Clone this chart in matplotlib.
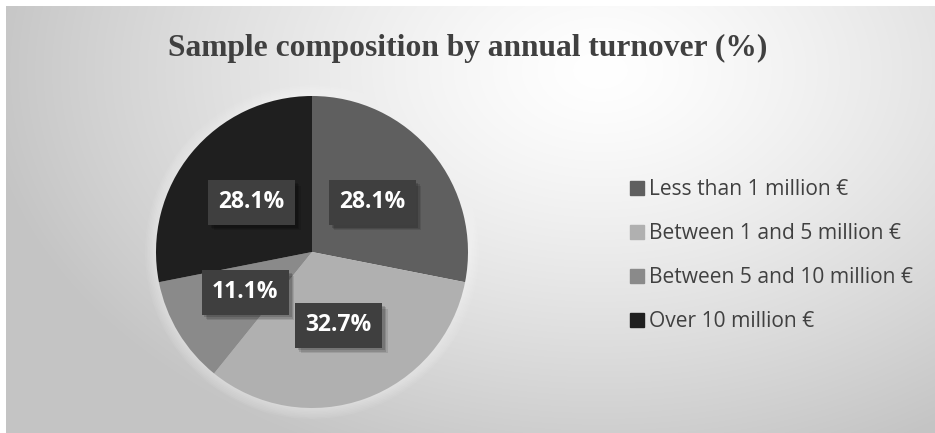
import numpy as np
import matplotlib
matplotlib.use("Agg")
import matplotlib.pyplot as plt
from matplotlib.lines import Line2D
from matplotlib import patheffects as pe
from matplotlib.patches import Circle

title = "Sample composition by annual turnover (%)"
categories = ["Less than 1 million €", "Between 1 and 5 million €",
              "Between 5 and 10 million €", "Over 10 million €"]
values = [28.1, 32.7, 11.1, 28.1]
colors = ["#5f5f5f", "#b0b0b0", "#8a8a8a", "#1f1f1f"]

W, H = 935, 433
plt.rcParams['hatch.color'] = '#4f4f4f'
plt.rcParams['hatch.linewidth'] = 1.2
fig = plt.figure(figsize=(W / 100, H / 100), dpi=100)
fig.patch.set_facecolor("white")

# background radial gradient
bg = fig.add_axes([6 / W, 0, 1 - 6 / W, 1 - 6 / H])
bg.set_axis_off()
yy, xx = np.mgrid[6:H, 6:W]
d = np.sqrt(((xx - 600) / 620.0) ** 2 + ((yy - 70) / 420.0) ** 2)
d = np.clip(d, 0, 1)
g = 1.0 - (1.0 - 0.77) * d ** 1.3
img = np.dstack([g, g, g])
bg.imshow(img, aspect="auto", extent=[0, 1, 0, 1], interpolation="bilinear")
bg.set_xlim(0, 1)
bg.set_ylim(0, 1)

fig.text(0.5, 1 - 48 / H, title, ha="center", va="center",
         fontsize=22.7, fontweight="bold", family="Liberation Serif", color="#404040")

cx, cy, r = 312, 252, 156
ax = fig.add_axes([(cx - r) / W, (H - cy - r) / H, 2 * r / W, 2 * r / H])
ax.set_axis_off()
for k in range(1, 8):
    ax.add_patch(Circle((0, 0), 1 + 0.01 * k, facecolor="white", alpha=0.06,
                        edgecolor="none", clip_on=False, zorder=0))
wedges, texts, autotexts = ax.pie(values, colors=colors, startangle=90, counterclock=False,
                                  autopct="%.1f%%", pctdistance=0.5, radius=1,
                                  wedgeprops=dict(linewidth=0),
                                  textprops=dict(color="white", fontsize=16.5, fontweight="bold",
                                                 family="Open Sans"))
for w in wedges:
    w.set_zorder(2)
for t in autotexts:
    t.set_zorder(5)
    t.set_bbox(dict(boxstyle="square,pad=0.45", facecolor="#3f3f3f", edgecolor="none",
                    hatch=".."))
    t.get_bbox_patch().set_path_effects([
        pe.SimplePatchShadow(offset=(4, -4), shadow_rgbFace="#000000", alpha=0.10),
        pe.SimplePatchShadow(offset=(3, -3), shadow_rgbFace="#000000", alpha=0.12),
        pe.SimplePatchShadow(offset=(2, -2), shadow_rgbFace="#000000", alpha=0.15),
        pe.Normal()])
ax.set_xlim(-1, 1)
ax.set_ylim(-1, 1)

handles = [Line2D([], [], marker="s", linestyle="none", markersize=10.5,
                  markerfacecolor=c, markeredgecolor=c) for c in colors]
fig.legend(handles, categories, loc="center left",
           bbox_to_anchor=(629 / W, 1 - 255.5 / H), frameon=False,
           prop=dict(family="Open Sans", size=15.1), labelcolor="#404040",
           handlelength=0.8, handletextpad=0.15, labelspacing=1.1,
           borderpad=0, borderaxespad=0)

fig.savefig("out.png", dpi=100)
